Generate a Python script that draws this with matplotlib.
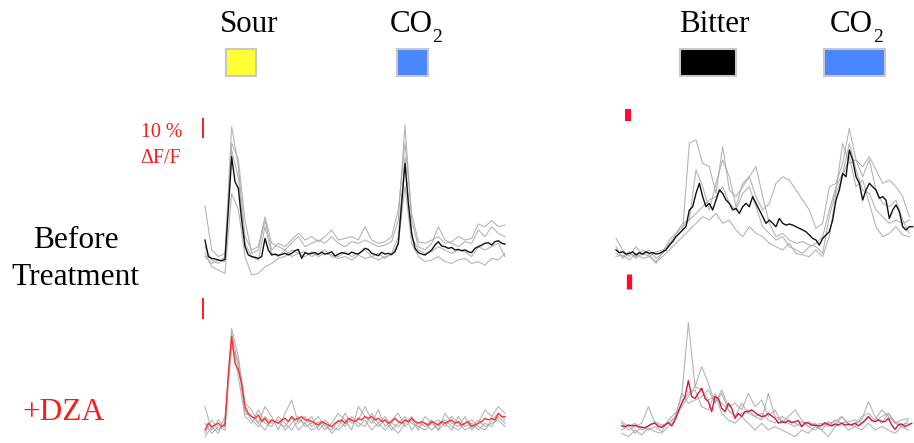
import numpy as np
import matplotlib
matplotlib.use('Agg')
from matplotlib import pyplot
from matplotlib.patches import Rectangle

pyplot.rcParams['font.family'] = ['Liberation Serif', 'DejaVu Serif']

# frame interval (s); single-cell traces are kept at every 2nd frame
dt = 10 / 3.

# ---- calcium traces, dF/F (%) ----
# sour -> CO2, before treatment
sour_mean = [11.1, 1.9, 0.9, 0.6, 0.0, -0.4, 0.4, 27.8, 57.4, 43.5,
             39.8, 22.2, 7.4, 2.8, 1.9, 1.5, 0.9, 1.9, 12.0, 5.6,
             2.8, 3.3, 2.6, 3.1, 3.7, 2.8, 3.7, 5.2, 5.9, 0.9,
             4.1, 3.3, 3.7, 4.1, 3.1, 4.3, 3.3, 3.7, 4.6, 2.2,
             3.3, 4.1, 3.7, 3.1, 4.4, 3.7, 3.3, 4.8, 6.5, 5.9,
             3.7, 3.1, 2.4, 4.3, 3.3, 3.7, 3.1, 4.6, 9.3, 31.5,
             53.7, 31.5, 14.8, 6.5, 4.1, 3.3, 2.8, 4.1, 5.6, 8.3,
             10.2, 7.8, 7.4, 6.5, 7.0, 5.6, 5.9, 5.2, 5.6, 4.6,
             4.1, 6.5, 7.4, 8.3, 9.3, 9.6, 8.3, 10.2, 10.7, 9.3,
             8.9]
sour_cells = [
    [30.0, 5.6, 1.9, 3.7, 74.1, 52.0, 13.0, 5.6, 7.4, 24.0,
     9.3, 7.4, 5.6, 9.3, 13.0, 7.4, 9.3, 11.1, 9.3, 13.0,
     9.3, 7.4, 10.2, 9.3, 11.1, 9.3, 7.4, 8.3, 10.2, 22.0,
     75.0, 22.0, 7.4, 5.6, 9.3, 18.5, 11.1, 9.3, 7.4, 10.2,
     9.3, 16.7, 13.0, 18.5, 14.8, 13.0],
    [3.7, -3.7, -5.6, -7.4, 37.0, 28.0, 1.9, -8.3, -7.4, -3.7,
     -1.9, 0.9, 1.9, 5.6, 3.7, 4.6, 1.9, 3.7, 5.6, 1.9,
     0.9, 1.9, 0.0, 2.8, 0.9, 1.9, 0.0, 1.9, 2.8, 9.3,
     41.0, 9.3, 1.9, -0.9, 0.0, 1.9, -0.9, -1.9, 0.0, 0.9,
     -1.9, -0.9, -2.8, 0.9, 0.0, 3.7],
    [1.9, -1.9, 0.0, -0.9, 65.0, 56.0, 22.0, 3.7, 5.6, 22.0,
     5.6, 9.3, 7.4, 11.1, 14.8, 11.1, 13.0, 10.2, 13.0, 16.7,
     11.1, 12.0, 13.0, 11.1, 18.5, 11.1, 9.3, 10.2, 13.0, 28.0,
     65.0, 26.0, 10.2, 9.3, 11.1, 13.0, 9.3, 10.2, 13.0, 11.1,
     12.0, 20.0, 18.5, 22.0, 18.5, 19.4],
    [7.4, 0.0, -1.9, 1.9, 61.0, 46.0, 9.3, 1.9, 0.0, 18.5,
     3.7, 1.9, 5.6, 1.9, 3.7, 1.9, 4.6, 1.9, 3.7, 2.8,
     1.9, 4.6, 1.9, 3.7, 5.6, 1.9, 3.7, 0.9, 3.7, 13.0,
     57.0, 13.0, 5.6, 3.7, 4.6, 7.4, 5.6, 3.7, 5.6, 4.6,
     1.9, 7.4, 5.6, 7.4, 9.3, 1.9],
]

# bitter -> CO2, before treatment
bitter_mean = [5.6, 4.1, 4.6, 3.3, 3.7, 4.6, 2.8, 4.1, 3.3, 4.6,
               3.7, 4.1, 3.3, 3.7, 4.6, 5.6, 8.3, 10.2, 13.0, 14.8,
               16.7, 18.5, 27.8, 29.6, 37.0, 42.6, 35.2, 29.6, 31.5, 27.8,
               33.3, 38.9, 37.0, 33.3, 31.5, 27.8, 28.7, 25.9, 29.6, 31.5,
               29.6, 35.2, 31.5, 27.8, 24.1, 20.4, 22.2, 20.4, 18.5, 23.1,
               20.4, 19.4, 20.0, 19.4, 18.5, 17.6, 16.7, 15.7, 13.9, 12.0,
               11.1, 8.3, 12.0, 13.9, 15.7, 22.2, 33.3, 38.9, 48.1, 46.3,
               61.1, 55.6, 46.3, 42.6, 33.3, 38.9, 42.6, 40.7, 38.9, 34.3,
               35.2, 33.3, 23.1, 27.8, 30.6, 26.9, 18.5, 16.7, 18.5, 18.5]
bitter_cells = [
    [12.0, 5.6, 1.9, 7.4, 2.8, 5.6, 0.9, 3.7, 9.3, 13.0,
     16.7, 64.8, 66.7, 53.7, 51.9, 37.0, 63.0, 38.9, 35.2, 40.7,
     46.3, 35.2, 27.8, 31.5, 42.6, 46.3, 44.4, 38.9, 33.3, 27.8,
     17.6, 20.4, 40.7, 42.6, 53.7, 73.1, 55.6, 51.9, 57.4, 50.0,
     42.6, 44.4, 40.7, 35.2, 24.1],
    [3.7, 1.9, 4.6, 0.9, 3.7, 1.9, 4.6, 5.6, 7.4, 14.8,
     18.5, 22.2, 50.0, 40.7, 27.8, 42.6, 55.6, 46.3, 29.6, 42.6,
     46.3, 51.9, 35.2, 20.4, 13.0, 14.8, 11.1, 9.3, 10.2, 8.3,
     7.4, 3.7, 24.1, 38.9, 64.8, 53.7, 55.6, 46.3, 55.6, 38.9,
     31.5, 29.6, 33.3, 22.2, 14.8],
    [1.9, 2.8, 0.0, 3.7, 0.9, 1.9, -0.9, 1.9, 5.6, 9.3,
     13.0, 16.7, 20.4, 24.1, 22.2, 25.9, 20.4, 22.2, 16.7, 13.0,
     18.5, 14.8, 13.0, 9.3, 7.4, 5.6, 9.3, 3.7, 2.8, 1.9,
     5.6, 1.9, 13.0, 37.0, 46.3, 57.4, 40.7, 44.4, 31.5, 18.5,
     13.0, 14.8, 18.5, 13.9, 13.0],
    [7.4, 0.9, 3.7, 1.9, 5.6, 2.8, -1.9, 4.6, 11.1, 14.8,
     20.4, 22.2, 25.9, 29.6, 33.3, 35.2, 40.7, 31.5, 27.8, 37.0,
     40.7, 29.6, 18.5, 14.8, 11.1, 13.0, 7.4, 5.6, 3.7, 7.4,
     9.3, 13.0, 27.8, 40.7, 48.1, 64.8, 50.0, 38.9, 37.0, 27.8,
     24.1, 20.4, 22.2, 20.4, 22.2],
]

# sour -> CO2, +DZA
sour_dza_mean = [-1.9, 1.9, 0.0, 0.9, 1.9, 0.0, 0.9, 29.6, 50.0, 35.2,
                 31.5, 24.1, 11.1, 7.4, 5.6, 4.6, 6.5, 2.8, 4.6, 1.9,
                 3.7, 2.8, 1.9, 3.7, 4.6, 2.8, 5.6, 3.7, 4.6, 5.6,
                 3.7, 3.7, 2.8, 1.9, 0.9, 2.8, 1.9, 0.9, 0.0, 1.9,
                 2.8, 3.7, 1.9, 4.6, 3.7, 2.8, 4.6, 3.7, 5.6, 4.6,
                 5.6, 3.7, 4.6, 2.8, 3.7, 1.9, 2.8, 4.6, 2.8, 1.9,
                 3.7, 2.8, 4.6, 2.8, 1.9, 2.8, 1.9, 0.9, 2.8, 1.9,
                 0.9, 2.8, 1.9, 2.8, 3.7, 1.9, 2.8, 0.9, 1.9, 2.8,
                 0.0, 0.9, 1.9, 2.8, 4.6, 3.7, 4.6, 3.7, 7.4, 5.6,
                 5.6]
sour_dza_cells = [
    [11.1, -1.9, 3.7, 0.0, 54.6, 38.9, 13.0, 9.3, 1.9, 11.1,
     5.6, -1.9, 7.4, 14.8, 1.9, 5.6, 0.0, 2.8, -1.9, 1.9,
     7.4, 3.7, -1.9, 11.1, 5.6, 1.9, 9.3, 0.0, 3.7, 7.4,
     0.0, 3.7, -1.9, 5.6, 1.9, -1.9, 7.4, 1.9, 0.0, 5.6,
     -1.9, 1.9, 9.3, 5.6, 11.1, 7.4],
    [-3.7, 3.7, -1.9, 1.9, 48.1, 27.8, 5.6, 1.9, 9.3, 1.9,
     0.0, 5.6, 1.9, -1.9, 3.7, 1.9, 5.6, -1.9, 1.9, -3.7,
     0.0, 7.4, 1.9, 3.7, 11.1, 3.7, 0.0, 3.7, -1.9, 1.9,
     5.6, -1.9, 2.8, 0.0, 3.7, -1.9, 1.9, -1.9, 5.6, 0.0,
     1.9, -1.9, 1.9, 0.0, 5.6, 1.9],
    [1.9, -3.7, 0.0, -1.9, 51.9, 33.3, 9.3, 3.7, 0.0, 5.6,
     1.9, 3.7, -1.9, 1.9, 5.6, 0.0, 1.9, 5.6, 0.0, -1.9,
     3.7, 0.0, 5.6, 1.9, 0.0, 7.4, 1.9, -1.9, 1.9, 0.0,
     3.7, 1.9, 0.0, -1.9, 1.9, 3.7, 0.0, 5.6, 1.9, -1.9,
     0.0, 3.7, 0.0, 1.9, 3.7, 0.0],
    [-5.6, 0.0, -3.7, 5.6, 44.4, 37.0, 7.4, 5.6, 1.9, -1.9,
     3.7, 1.9, 0.0, 5.6, -1.9, 1.9, -1.9, 0.0, 3.7, 0.0,
     -1.9, 1.9, 3.7, 0.0, 3.7, -1.9, 1.9, 5.6, 0.0, -3.7,
     1.9, 5.6, 0.0, 1.9, -1.9, 1.9, 3.7, 0.0, -1.9, 1.9,
     3.7, 0.0, -1.9, 3.7, 7.4, 3.7],
]

# bitter -> CO2, +DZA
bitter_dza_mean = [0.4, 0.0, 0.9, 0.4, 0.7, 0.0, -0.4, -0.6, 0.4, 1.5,
                   1.9, 0.0, -0.4, 0.9, 2.2, 0.4, 3.7, 8.3, 13.0, 16.7,
                   25.6, 16.7, 15.7, 18.5, 21.3, 15.7, 13.9, 8.3, 16.7, 15.7,
                   10.2, 8.3, 13.0, 10.2, 4.6, 7.4, 5.6, 8.3, 8.3, 9.3,
                   7.8, 6.5, 5.6, 5.9, 7.4, 5.9, 4.6, 1.9, 2.8, 2.2,
                   3.3, 2.2, 2.8, 3.3, 0.0, 2.2, 1.9, 0.9, 0.7, 0.4,
                   0.7, 2.2, 1.1, 0.4, 1.5, 0.9, 1.9, 0.9, 1.3, 0.9,
                   1.9, 0.4, 1.9, 3.3, 5.6, 3.3, 2.8, 3.7, 2.8, 2.8,
                   4.6, 0.9, -1.5, 0.9, 1.5, 0.0, 0.9, 1.9]
bitter_dza_cells = [
    [1.9, -1.9, 0.0, 1.9, 11.1, 1.9, 0.0, 1.9, 5.6, 16.7,
     57.8, 22.2, 20.4, 14.8, 16.7, 13.0, 9.3, 5.6, 7.4, 9.3,
     5.6, 3.7, 18.5, 5.6, 3.7, 1.9, 0.0, 2.8, 0.0, -1.9,
     0.9, 1.9, 2.8, 5.6, 0.9, 1.9, 3.7, 13.9, 5.6, 1.9,
     7.4, 1.9, 0.0, 3.7],
    [-1.9, 0.9, -3.7, 0.0, -1.9, 0.0, -2.8, 3.7, 7.4, 11.1,
     16.7, 22.2, 33.3, 24.1, 13.0, 20.4, 11.1, 13.0, 9.3, 18.5,
     11.1, 14.8, 5.6, 9.3, 1.9, 5.6, 9.3, 3.7, 0.0, 1.9,
     -1.9, 2.8, 0.0, 5.6, 1.9, 0.0, 5.6, 7.4, 3.7, 9.3,
     5.6, 1.9, 3.7, 4.6],
    [-3.7, -5.6, -1.9, -4.6, -0.9, -2.8, -3.7, 0.0, 3.7, 13.0,
     18.5, 20.4, 11.1, 9.3, 18.5, 7.4, 3.7, 1.9, 5.6, 1.9,
     -1.9, 1.9, -1.9, 0.0, -1.9, -3.7, -5.6, -1.9, -3.7, 0.0,
     -1.9, -5.6, 0.0, 1.9, -1.9, 0.0, -1.9, 1.9, -1.9, 0.0,
     -1.9, -3.7, 0.0, -1.9],
    [2.8, 0.0, 1.9, -1.9, 0.0, 2.8, 0.9, 1.9, 4.6, 18.5,
     13.0, 14.8, 16.7, 20.4, 13.0, 18.5, 9.3, 5.6, 13.0, 7.4,
     5.6, 7.4, 3.7, 1.9, 5.6, 3.7, 1.9, 0.0, 2.8, 0.9,
     1.9, 0.0, 3.7, 1.9, 2.8, 3.7, 1.9, 5.6, 2.8, 5.6,
     7.4, 2.8, 0.9, 1.9],
]

# stimulus names (subscript part kept separately)
stim_left = [('Sour', ''), ('CO', '2')]
stim_right = [('Bitter', ''), ('CO', '2')]
row_labels = ['Before', 'Treatment', '+DZA']
scale_label = ['10 %', '\u0394F/F']

# ---- figure, laid out in pixels ----
W, H = 914, 443
fig = pyplot.figure(figsize=(W / 100., H / 100.), dpi=100)


def px_axes(x0, y0, x1, y1):
    return fig.add_axes([x0 / W, 1 - y1 / H, (x1 - x0) / W, (y1 - y0) / H])


def draw_panel(ax, mean, cells, mean_color, xlim, ylim):
    for c in cells:
        t = np.arange(len(c)) * 2 * dt
        ax.plot(t, c, color='#a8a8a8', lw=0.8, alpha=0.85)
    t = np.arange(len(mean)) * dt
    ax.plot(t, mean, color=mean_color, lw=1.0)
    ax.set_xlim(*xlim)
    ax.set_ylim(*ylim)
    ax.axis('off')


ax1 = px_axes(195, 100, 515, 280)
draw_panel(ax1, sour_mean, sour_cells, '#111111', (-10, 310), (-11.1, 88.9))
ax1.plot([-1.7, -1.7], [68.3, 78.3], color='#ff1a1a', lw=1.4)

ax2 = px_axes(606, 100, 914, 280)
draw_panel(ax2, bitter_mean, bitter_cells, '#111111', (-10, 298), (-11.1, 88.9))
ax2.plot([11.5, 11.5], [77.2, 83.9], color='#ff0a28', lw=4.3, solid_capstyle='butt')

ax3 = px_axes(195, 285, 515, 443)
draw_panel(ax3, sour_dza_mean, sour_dza_cells, '#ff3030', (-10, 310), (-9.1, 78.7))
ax3.plot([-2, -2], [60.4, 70.9], color='#ff1a1a', lw=1.4)

ax4 = px_axes(606, 265, 914, 443)
draw_panel(ax4, bitter_dza_mean, bitter_dza_cells, '#d6193a', (-15.7, 292.3), (-9.1, 89.8))
ax4.plot([7.6, 7.6], [76.6, 84.8], color='#ff0a28', lw=3.8, solid_capstyle='butt')


def ftext(x, y, s, **kw):
    fig.text(x / W, 1 - y / H, s, va='baseline', **kw)


def box(x0, y0, x1, y1, color):
    fig.patches.append(Rectangle((x0 / W, 1 - y1 / H), (x1 - x0) / W, (y1 - y0) / H,
                                 transform=fig.transFigure, facecolor=color,
                                 edgecolor='#c8c8c8', lw=1.5))


# stimulus labels and colour keys
ftext(249, 32.5, stim_left[0][0], ha='center', fontsize=22.3)
ftext(390, 32.5, stim_left[1][0], ha='left', fontsize=22.3)
ftext(432, 41.7, stim_left[1][1], ha='left', fontsize=14)
ftext(714.5, 32.5, stim_right[0][0], ha='center', fontsize=22.3)
ftext(830, 32.5, stim_right[1][0], ha='left', fontsize=22.3)
ftext(873, 41.7, stim_right[1][1], ha='left', fontsize=14)
box(226, 48.7, 256.3, 76.3, '#ffff33')
box(396.7, 48.7, 428.3, 76.3, '#4a86ff')
box(680, 48.7, 735.7, 76.3, '#000000')
box(823.7, 48.7, 885, 76.3, '#4a86ff')

# row labels
ftext(75.5, 248.3, row_labels[0], ha='center', fontsize=22.6)
ftext(75.5, 285, row_labels[1], ha='center', fontsize=22.6)
ftext(64, 420, row_labels[2], ha='center', fontsize=22.6, color='#ff1a1a')

# scale bar label
ftext(162, 136.7, scale_label[0], ha='center', fontsize=14.4, color='#ff1a1a')
ftext(161, 163.3, scale_label[1], ha='center', fontsize=14.4, color='#ff1a1a')

pyplot.savefig('out.png', dpi=100)
